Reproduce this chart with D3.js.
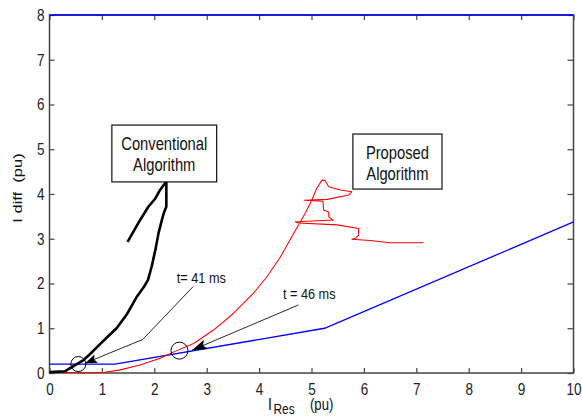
<!DOCTYPE html>
<html><head><meta charset="utf-8">
<script src="https://cdn.jsdelivr.net/npm/d3@7"></script>
<style>body{margin:0;background:#fff}</style>
</head><body><svg id="c" width="582" height="416"></svg>
<script>
// ---- data ----
const xTicks = [0,1,2,3,4,5,6,7,8,9,10];
const yTicks = [0,1,2,3,4,5,6,7,8];
const blueLimit = [[0,0.2],[1.25,0.2],[5.25,1.0],[10,3.375]];
const blueTop = [[0,8],[10,8]];
const conventional = [[0,0.02],[0.3,0.04],[0.52,0.2],[0.65,0.29],[0.77,0.42],[0.96,0.64],[1.1,0.8],[1.28,1.0],[1.47,1.3],[1.67,1.71],[1.8,1.92],[1.88,2.08],[1.95,2.38],[2.02,2.75],[2.08,3.12],[2.14,3.4],[2.18,3.57],[2.23,3.72],[2.23,4.28],[2.11,4.09],[2.02,3.9],[1.89,3.72],[1.73,3.42],[1.49,2.93]];
const proposed = [[0.15,0.01],[1.03,0.01],[1.35,0.07],[1.73,0.18],[2.11,0.33],[2.43,0.5],[2.75,0.66],[3.13,0.96],[3.51,1.33],[3.89,1.78],[4.15,2.15],[4.4,2.58],[4.59,2.97],[4.75,3.3],[4.88,3.57],[5.01,3.87],[5.1,4.13],[5.2,4.31],[5.26,4.3],[5.33,4.16],[5.55,4.09],[5.77,4.05],[5.71,3.98],[5.3,3.88],[4.86,3.86],[5.22,3.84],[5.23,3.64],[5.33,3.6],[5.33,3.49],[5.39,3.43],[5.42,3.42],[4.69,3.38],[4.75,3.35],[5.49,3.31],[5.9,3.23],[5.9,3.08],[5.84,3.01],[5.77,2.99],[6.12,2.96],[6.5,2.91],[7.14,2.91]];
const circleMarks = [[0.55,0.2],[2.48,0.5]];
const arrow41 = [[2.74,1.93],[1.78,0.75],[0.68,0.22]];
const arrow46 = [[4.75,1.52],[2.72,0.51]];
const label41 = {text:"t= 41 ms", at:[2.43,2.01]};
const label46 = {text:"t = 46 ms", at:[4.455,1.654]};
const boxConv = {lines:["Conventional","Algorithm"], x:[1.19,3.19], y:[4.27,5.54]};
const boxProp = {lines:["Proposed","Algorithm"], x:[5.79,7.49], y:[4.11,5.34]};

// ---- font ----
function hasFont(name){
  const c=document.createElement('canvas').getContext('2d');
  const s='Conventional Algorithm 0123';
  c.font='40px monospace'; const a=c.measureText(s).width;
  c.font='40px "'+name+'", monospace'; const b=c.measureText(s).width;
  return Math.abs(a-b)>0.5;
}
const narrow = hasFont('Liberation Sans Narrow');
const FAM = narrow ? '"Liberation Sans Narrow", sans-serif' : '"Liberation Sans", Arial, sans-serif';
const SX = narrow ? 1 : 0.82;
const FAMR = '"Liberation Sans", Arial, sans-serif';

const svg = d3.select('#c');
const x = d3.scaleLinear().domain([0,10]).range([49.5,573.5]);
const y = d3.scaleLinear().domain([0,8]).range([373,15]);
const AX = '#444';

function txt(g,px,py,s,size,anchor){
  return g.append('text')
    .attr('transform',`translate(${px},${py}) scale(${SX},1)`)
    .attr('font-size',size).attr('font-family',FAM)
    .attr('text-anchor',anchor||'start').attr('fill','#111').text(s);
}

// axes
function styleAxis(g){
  g.select('.domain').remove();
  g.selectAll('.tick line').attr('stroke',AX).attr('stroke-width',1.2);
  g.selectAll('text').attr('font-family',FAM).attr('font-size',16.5).attr('fill','#222');
}
const gb = svg.append('g').attr('transform',`translate(0,${y(0)})`)
  .call(d3.axisBottom(x).tickValues(xTicks).tickSize(-5).tickPadding(10).tickFormat(d3.format('d')));
styleAxis(gb); gb.selectAll('text').attr('transform',`scale(${SX},1)`);
const gl = svg.append('g').attr('transform',`translate(${x(0)},0)`)
  .call(d3.axisLeft(y).tickValues(yTicks).tickSize(-5).tickPadding(5/SX).tickFormat(d3.format('d')));
styleAxis(gl); gl.selectAll('text').attr('transform',`scale(${SX},1)`);
const gt = svg.append('g').attr('transform',`translate(0,${y(8)})`)
  .call(d3.axisTop(x).tickValues(xTicks).tickSize(-5).tickFormat(''));
styleAxis(gt);
const gr = svg.append('g').attr('transform',`translate(${x(10)},0)`)
  .call(d3.axisRight(y).tickValues(yTicks).tickSize(-6).tickFormat(''));
styleAxis(gr);
svg.append('rect').attr('x',x(0)).attr('y',y(8)).attr('width',x(10)-x(0)).attr('height',y(0)-y(8))
  .attr('fill','none').attr('stroke',AX).attr('stroke-width',1.5);

// axis labels
svg.append('text').attr('transform','translate(22,188) rotate(-90) scale(1,0.8)')
  .attr('font-size',16.5).attr('font-family',FAMR).attr('text-anchor','middle').attr('fill','#111')
  .attr('xml:space','preserve').style('white-space','pre').text('I diff  (pu)');
txt(svg,268,410,'I',17,'start');
txt(svg,273.5,413.5,'Res',14.5,'start');
txt(svg,310,410,'(pu)',16,'start');

// lines
const line = d3.line().x(d=>x(d[0])).y(d=>y(d[1]));
svg.append('path').datum(blueTop).attr('d',line).attr('fill','none').attr('stroke','#0000ff').attr('stroke-width',1.6);
svg.append('path').datum(blueLimit).attr('d',line).attr('fill','none').attr('stroke','#0000ff').attr('stroke-width',1.3);
svg.append('path').datum(proposed).attr('d',line).attr('fill','none').attr('stroke','#ff0000').attr('stroke-width',1.05).attr('stroke-linejoin','round');
svg.append('path').datum(conventional).attr('d',line).attr('fill','none').attr('stroke','#000').attr('stroke-width',2.6).attr('stroke-linejoin','round');

// circles
svg.selectAll('circle.m').data(circleMarks).enter().append('circle')
  .attr('cx',d=>x(d[0])).attr('cy',d=>y(d[1])).attr('r',(d,i)=>i?8.5:7.5)
  .attr('fill','none').attr('stroke','#000').attr('stroke-width',1);

// arrows
function arrow(pts,L,W){
  svg.append('path').datum(pts).attr('d',line).attr('fill','none').attr('stroke','#111').attr('stroke-width',0.9);
  const n=pts.length, a=pts[n-2], b=pts[n-1];
  const tx=x(b[0]), ty=y(b[1]), fx=x(a[0]), fy=y(a[1]);
  const dx=fx-tx, dy=fy-ty, len=Math.hypot(dx,dy), ux=dx/len, uy=dy/len, px=-uy, py=ux;
  const p=[[tx,ty],[tx+ux*L+px*W,ty+uy*L+py*W],[tx+ux*L*0.8,ty+uy*L*0.8],[tx+ux*L-px*W,ty+uy*L-py*W]];
  svg.append('path').attr('d','M'+p.map(q=>q.join(',')).join('L')+'Z').attr('fill','#000');
}
arrow(arrow41,12,4.5);
arrow(arrow46,15,5);

txt(svg,x(label41.at[0]),y(label41.at[1]),label41.text,15.5,'start');
txt(svg,x(label46.at[0]),y(label46.at[1]),label46.text,15.5,'start');

// boxes
function box(b){
  const x0=x(b.x[0]), x1=x(b.x[1]), y0=y(b.y[1]), y1=y(b.y[0]);
  svg.append('rect').attr('x',x0).attr('y',y0).attr('width',x1-x0).attr('height',y1-y0)
    .attr('fill','#fff').attr('stroke','#111').attr('stroke-width',1.2);
  b.lines.forEach((s,i)=>txt(svg,(x0+x1)/2,y0+24.5+i*21.5,s,18,'middle'));
}
box(boxConv);
box(boxProp);
</script></body></html>
